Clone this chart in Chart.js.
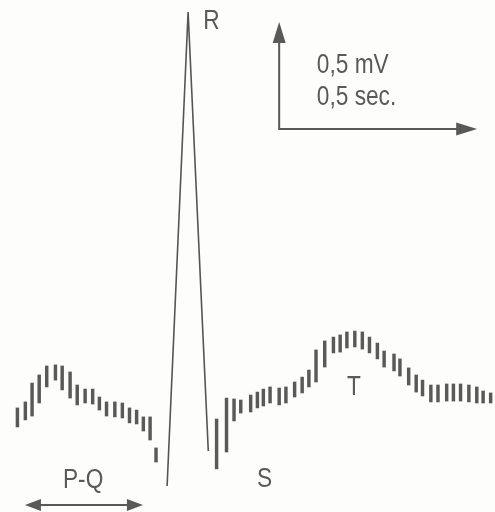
<!DOCTYPE html>
<html>
<head>
<meta charset="utf-8">
<script src="https://cdn.jsdelivr.net/npm/chart.js@4/dist/chart.umd.min.js"></script>
<style>
  html, body { margin: 0; padding: 0; background: #fdfdfb; }
  #wrap { width: 495px; height: 512px; position: relative; }
</style>
</head>
<body>
<div id="wrap"><canvas id="ecg"></canvas></div>
<script>
const tickTime = [
  0.044, 0.064, 0.081, 0.099, 0.118, 0.140, 0.157, 0.177, 0.195, 0.215,
  0.234, 0.251, 0.269, 0.290, 0.309, 0.327, 0.345, 0.362, 0.379, 0.394,
  0.547, 0.572, 0.591, 0.608, 0.633, 0.650, 0.665, 0.682, 0.705, 0.722,
  0.744, 0.763, 0.780, 0.798, 0.820, 0.842, 0.859, 0.876, 0.896, 0.915,
  0.933, 0.953, 0.970, 0.995, 1.010, 1.032, 1.051, 1.067, 1.088, 1.106,
  1.128, 1.145, 1.163, 1.184, 1.204, 1.220, 1.239
];
const tickTop = [
  -0.037, -0.009, 0.079, 0.117, 0.159, 0.164, 0.159, 0.131, 0.070, 0.051,
  0.051, 0.014, -0.009, -0.009, -0.014, -0.037, -0.047, -0.079, -0.079, -0.224,
  -0.089, 0.009, 0.005, 0.000, 0.023, 0.037, 0.051, 0.061, 0.056, 0.061,
  0.084, 0.107, 0.140, 0.234, 0.276, 0.294, 0.304, 0.318, 0.322, 0.318,
  0.294, 0.266, 0.229, 0.215, 0.192, 0.150, 0.117, 0.093, 0.070, 0.070,
  0.075, 0.075, 0.075, 0.070, 0.061, 0.042, 0.033
];
const tickBottom = [
  -0.126, -0.093, -0.075, -0.014, 0.061, 0.093, 0.047, 0.009, -0.023, -0.014,
  -0.019, -0.047, -0.075, -0.079, -0.084, -0.107, -0.112, -0.145, -0.187, -0.290,
  -0.322, -0.243, -0.098, -0.061, -0.056, -0.037, -0.028, -0.014, -0.023, -0.014,
  0.014, 0.033, 0.061, 0.084, 0.154, 0.220, 0.224, 0.243, 0.248, 0.238,
  0.220, 0.192, 0.154, 0.136, 0.112, 0.070, 0.037, 0.019, -0.009, -0.009,
  -0.005, -0.005, -0.005, -0.009, -0.014, -0.014, -0.014
];

// QRS complex: Q, R, S
const qrsTime = [0.422, 0.475, 0.526];
const qrsVolt = [-0.402, 1.813, -0.238];

// labels and scale bar
const waveLabels = [
  { text: "R", t: 0.513, v: 1.734 },
  { text: "S", t: 0.649, v: -0.407 },
  { text: "T", t: 0.876, v: 0.023 },
  { text: "P-Q", t: 0.159, v: -0.411 }
];
const pqStart = 0.063, pqEnd = 0.361, pqLevel = -0.491;
const scaleOrigin = { t: 0.705, v: 1.266 };
const scaleTime = 0.5;   // sec
const scaleVolt = 0.5;   // mV
const scaleText = ["0,5 mV", "0,5 sec."];

const ink = "#595959";
const font = '27px "Liberation Sans", Arial, sans-serif';
const squeeze = 0.84; // printed labels use a condensed face

function arrowHead(ctx, x, y, dir, len, half) {
  ctx.save();
  ctx.translate(x, y);
  ctx.rotate(dir);
  ctx.beginPath();
  ctx.moveTo(0, 0);
  ctx.lineTo(-len, -half);
  ctx.lineTo(-len, half);
  ctx.closePath();
  ctx.fill();
  ctx.restore();
}

function label(ctx, text, x, y) {
  ctx.save();
  ctx.translate(x, y);
  ctx.scale(squeeze, 1);
  ctx.fillText(text, 0, 0);
  ctx.restore();
}

const notes = {
  id: "notes",
  afterDatasetsDraw(chart) {
    const ctx = chart.ctx;
    const xs = chart.scales.x, ys = chart.scales.y;
    ctx.save();
    ctx.fillStyle = ink;
    ctx.strokeStyle = ink;
    ctx.font = font;
    ctx.textBaseline = "alphabetic";
    ctx.textAlign = "left";

    waveLabels.forEach((l) => {
      label(ctx, l.text, xs.getPixelForValue(l.t), ys.getPixelForValue(l.v));
    });

    // P-Q interval arrow
    const ay = ys.getPixelForValue(pqLevel);
    const ax1 = xs.getPixelForValue(pqStart), ax2 = xs.getPixelForValue(pqEnd);
    ctx.lineWidth = 2;
    ctx.beginPath();
    ctx.moveTo(ax1 + 8, ay);
    ctx.lineTo(ax2 - 8, ay);
    ctx.stroke();
    arrowHead(ctx, ax1, ay, Math.PI, 16, 6);
    arrowHead(ctx, ax2, ay, 0, 16, 6);

    // scale bar
    const ox = xs.getPixelForValue(scaleOrigin.t);
    const oy = ys.getPixelForValue(scaleOrigin.v);
    const ex = xs.getPixelForValue(scaleOrigin.t + scaleTime);
    const ey = ys.getPixelForValue(scaleOrigin.v + scaleVolt);
    ctx.lineWidth = 2;
    ctx.beginPath();
    ctx.moveTo(ox, ey + 10);
    ctx.lineTo(ox, oy);
    ctx.lineTo(ex - 10, oy);
    ctx.stroke();
    arrowHead(ctx, ox, ey, -Math.PI / 2, 21, 6.5);
    arrowHead(ctx, ex, oy, 0, 21, 6.5);

    label(ctx, scaleText[0], xs.getPixelForValue(0.8), ys.getPixelForValue(1.528));
    label(ctx, scaleText[1], xs.getPixelForValue(0.8), ys.getPixelForValue(1.379));
    ctx.restore();
  }
};

const ticks = tickTime.map((t, i) => ({ x: t, y: [tickBottom[i], tickTop[i]] }));
const qrs = qrsTime.map((t, i) => ({ x: t, y: qrsVolt[i] }));

new Chart(document.getElementById("ecg"), {
  type: "bar",
  data: {
    datasets: [
      {
        type: "bar",
        label: "ECG",
        data: ticks,
        backgroundColor: ink,
        borderWidth: 0,
        barThickness: 2.8
      },
      {
        type: "line",
        label: "QRS",
        data: qrs,
        borderColor: "#555",
        borderWidth: 1.6,
        pointRadius: 0,
        tension: 0,
        fill: false
      }
    ]
  },
  options: {
    responsive: true,
    maintainAspectRatio: false,
    animation: false,
    layout: { padding: 0 },
    plugins: {
      legend: { display: false },
      tooltip: { enabled: false },
      title: { display: false }
    },
    scales: {
      x: { type: "linear", min: 0, max: 1.25, display: false, offset: false },
      y: { type: "linear", min: -0.5234, max: 1.8692, display: false }
    }
  },
  plugins: [notes]
});
</script>
</body>
</html>
